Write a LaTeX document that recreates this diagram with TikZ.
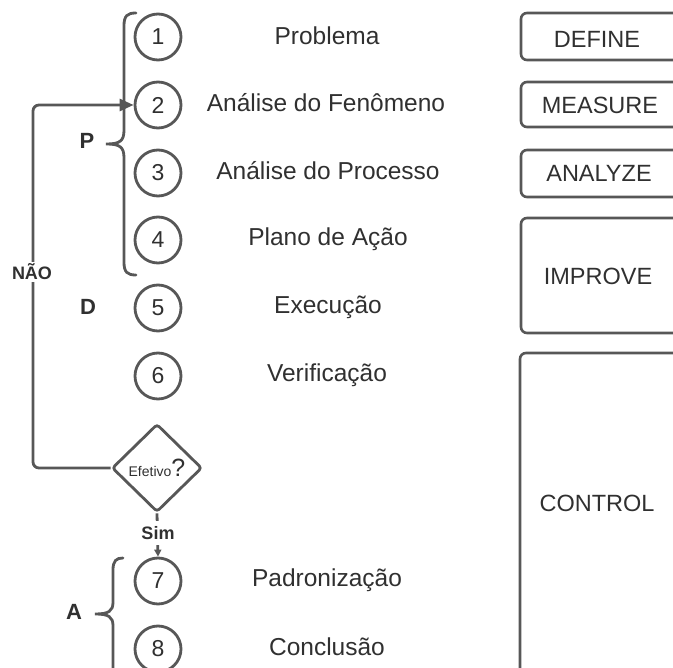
\documentclass[tikz,border=0pt]{standalone}
\usepackage{fontspec}
\setmainfont{Liberation Sans}
\usetikzlibrary{shapes.geometric,arrows.meta}
\definecolor{linegray}{HTML}{575757}
\definecolor{textgray}{HTML}{303030}
\tikzset{
  stepnum/.style={circle,draw=linegray,line width=2.8pt,minimum size=46pt,inner sep=0pt,
    text=textgray,font=\fontsize{23}{25}\selectfont},
  steplabel/.style={text=textgray,font=\fontsize{24.5}{27}\selectfont,inner sep=0pt},
  phase/.style={text=textgray,font=\bfseries\fontsize{22}{24}\selectfont,inner sep=0pt},
  flowlabel/.style={text=textgray,font=\bfseries\fontsize{18}{20}\selectfont,fill=white,inner sep=2pt},
  stagebox/.style={draw=linegray,line width=2.6pt,rounded corners=6pt},
  stagelabel/.style={text=textgray,font=\fontsize{23.5}{26}\selectfont,inner sep=0pt},
  bracket/.style={draw=linegray,line width=2.8pt,line cap=round},
  link/.style={draw=linegray,line width=2.8pt,rounded corners=6pt}
}
\begin{document}
\begin{tikzpicture}[x=1pt,y=-1pt]
\useasboundingbox (0,0) rectangle (673,668);
\clip (0,0) rectangle (673,668);

% numbered steps
\node[stepnum] (s1) at (158,37) {1};
\node[stepnum] (s2) at (158,105) {2};
\node[stepnum] (s3) at (158,173) {3};
\node[stepnum] (s4) at (158,240) {4};
\node[stepnum] (s5) at (158,308) {5};
\node[stepnum] (s6) at (158,376) {6};
\node[stepnum] (s7) at (158,581) {7};
\node[stepnum] (s8) at (158,649) {8};

% step descriptions
\node[steplabel] (t1) at (327,36) {Problema};
\node[steplabel] (t2) at (326,103) {Análise do Fenômeno};
\node[steplabel] (t3) at (328,171) {Análise do Processo};
\node[steplabel] (t4) at (328,239) {Plano de Ação};
\node[steplabel] (t5) at (328,307) {Execução};
\node[steplabel] (t6) at (327,375) {Verificação};
\node[steplabel] (t7) at (327,580) {Padronização};
\node[steplabel] (t8) at (327,647) {Conclusão};

% decision
\node[diamond,draw=linegray,line width=2.8pt,rounded corners=3pt,minimum width=90pt,minimum height=88pt,
  inner sep=0pt,text=textgray] (dec) at (157,468)
  {\fontsize{14}{16}\selectfont Efetivo\fontsize{25}{27}\selectfont ?};

% PDCA phase letters
\node[phase] (pP) at (87,141) {P};
\node[phase] (pD) at (88,307) {D};
\node[phase] (pA) at (74,612) {A};

% braces
\draw[bracket] (136,13) .. controls (127,13) and (124,16) .. (124,26)
  -- (124,130) .. controls (124,141) and (120,144) .. (106,144)
  .. controls (120,144) and (124,147) .. (124,158)
  -- (124,262) .. controls (124,272) and (127,275) .. (136,275);
\draw[bracket] (123,558) .. controls (116,558) and (113,561) .. (113,570)
  -- (113,602) .. controls (113,611) and (109,614) .. (95,614)
  .. controls (109,614) and (113,617) .. (113,626)
  -- (113,700);

% feedback loop
\coordinate (cl) at (33,468);
\coordinate (cu) at (33,105);
\draw[link,-{Triangle[length=14pt,width=12pt]}] (dec.west) -- (cl) -- (cu) -- (s2.west);
\node[flowlabel] (nao) at (32,272) {NÃO};

% exit
\draw[link,-{Triangle[length=7pt,width=7pt]}] (dec.south) -- (s7.north);
\node[flowlabel,inner ysep=5pt] (sim) at (158,533) {Sim};

% DMAIC stages
\draw[stagebox] (521,13) rectangle (700,60);
\draw[stagebox] (521,82) rectangle (700,127);
\draw[stagebox] (521,150) rectangle (700,197);
\draw[stagebox] (521,218) rectangle (700,333);
\draw[stagebox] (520,353) rectangle (700,700);
\node[stagelabel] (d1) at (597,39) {DEFINE};
\node[stagelabel] (d2) at (600,105) {MEASURE};
\node[stagelabel] (d3) at (599,173) {ANALYZE};
\node[stagelabel] (d4) at (598,276) {IMPROVE};
\node[stagelabel] (d5) at (597,503) {CONTROL};
\end{tikzpicture}
\end{document}
